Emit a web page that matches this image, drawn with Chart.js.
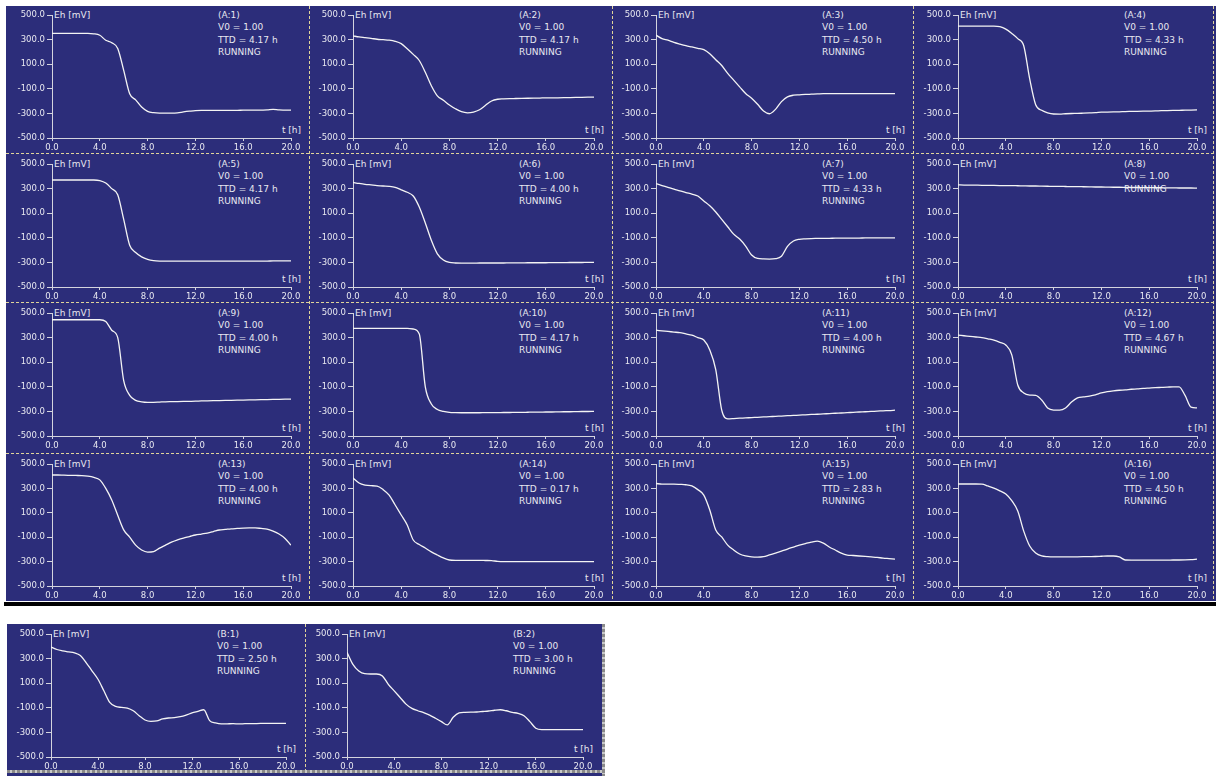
<!DOCTYPE html>
<html>
<head>
<meta charset="utf-8">
<script src="https://cdn.jsdelivr.net/npm/chart.js@4.4.1/dist/chart.umd.min.js"></script>
<style>
  html, body { margin: 0; padding: 0; background: #ffffff; }
  body { width: 1221px; height: 776px; overflow: hidden; position: relative; font-family: "DejaVu Sans", sans-serif; }
  .bg { position: absolute; background: #2c2d7a; }
  .txt { position: absolute; color: #e8e8f0; font-size: 9px; line-height: 12.3px; white-space: pre; }
  .cv { position: absolute; }
  .hd { position: absolute; height: 1px; background: repeating-linear-gradient(to right, #e0d49a 0 3px, transparent 3px 5px); }
  .vd { position: absolute; width: 1px; background: repeating-linear-gradient(to bottom, #e0d49a 0 3px, transparent 3px 5px); }
  .hg { position: absolute; height: 3px; background: repeating-linear-gradient(to right, #8a8a8a 0 3px, #c8c8c8 3px 5px); }
  .vg { position: absolute; width: 3px; background: repeating-linear-gradient(to bottom, #8a8a8a 0 3px, #c8c8c8 3px 5px); }
</style>
</head>
<body>
<script>
// sample times in hours
const hours = [0, 0.5, 1, 1.5, 2, 2.5, 3, 3.5, 4, 4.5, 5, 5.5, 6, 6.5, 7, 7.5, 8, 8.5, 9, 9.5, 10,
  10.5, 11, 11.5, 12, 12.5, 13, 13.5, 14, 14.5, 15, 15.5, 16, 16.5, 17, 17.5, 18, 18.5, 19, 19.5, 20];

// redox potential Eh [mV] per channel
const ehA1 = [350, 350, 350, 350, 350, 350, 350, 347, 335, 295, 275, 228, 50, -140, -190, -248, -283, -294, -297, -297, -297,
  -295, -288, -282, -277, -276, -276, -275, -275, -275, -275, -275, -274, -274, -274, -273, -272, -268, -272, -273, -274];
const ehA2 = [330, 322, 316, 310, 303, 299, 295, 286, 267, 226, 180, 130, 34, -75, -157, -193, -231, -262, -286, -295, -289,
  -270, -234, -199, -185, -182, -180, -179, -178, -177, -176, -175, -173, -174, -173, -172, -171, -170, -169, -168, -167];
const ehA3 = [336, 308, 295, 278, 264, 251, 240, 229, 218, 185, 136, 89, 26, -29, -84, -138, -177, -226, -281, -303, -267,
  -204, -166, -152, -149, -146, -144, -142, -139, -139, -139, -139, -139, -139, -139, -139, -139, -139, -139, -139, -139];
const ehA4 = [410, 410, 410, 410, 410, 410, 410, 405, 385, 350, 308, 250, -20, -230, -275, -295, -305, -306, -303, -301, -300,
  -298, -296, -294, -290, -289, -288, -287, -285, -284, -283, -282, -281, -280, -278, -277, -276, -275, -274, -273, -272];
const ehA5 = [370, 370, 370, 370, 370, 370, 370, 370, 365, 345, 300, 250, 50, -160, -220, -255, -275, -285, -289, -290, -290,
  -290, -290, -290, -290, -290, -290, -290, -290, -290, -290, -289, -289, -289, -289, -289, -289, -288, -288, -288, -288];
const ehA6 = [350, 342, 335, 330, 325, 321, 318, 310, 290, 270, 240, 150, 20, -120, -230, -280, -300, -305, -306, -306, -306,
  -305, -305, -305, -305, -305, -304, -304, -304, -303, -303, -303, -303, -302, -302, -302, -301, -301, -301, -300, -300];
const ehA7 = [340, 325, 310, 295, 282, 268, 255, 240, 200, 160, 110, 50, -10, -70, -110, -167, -240, -268, -272, -273, -270,
  -250, -170, -126, -112, -108, -106, -105, -104, -104, -103, -103, -102, -102, -102, -101, -101, -101, -100, -100, -100];
const ehA8 = [330, 329, 329, 328, 327, 327, 326, 325, 324, 324, 323, 322, 321, 321, 320, 319, 318, 318, 317, 316, 316,
  315, 314, 313, 313, 312, 311, 311, 310, 309, 309, 308, 308, 307, 307, 306, 306, 305, 305, 305, 304];
const ehA9 = [445, 445, 445, 445, 445, 445, 445, 445, 445, 430, 360, 300, -50, -170, -210, -222, -226, -226, -224, -222, -221,
  -220, -219, -218, -217, -215, -214, -213, -212, -211, -210, -209, -208, -207, -206, -205, -204, -203, -202, -201, -200];
const ehA10 = [375, 375, 375, 375, 375, 375, 375, 375, 375, 375, 370, 330, -100, -240, -285, -300, -308, -310, -311, -311, -311,
  -311, -310, -310, -310, -309, -309, -308, -308, -307, -306, -306, -305, -305, -304, -303, -303, -302, -301, -301, -300];
const ehA11 = [360, 355, 350, 345, 340, 330, 320, 300, 280, 200, 40, -290, -360, -358, -355, -353, -350, -348, -345, -343, -340,
  -338, -335, -333, -330, -328, -325, -323, -320, -318, -315, -313, -310, -308, -305, -303, -300, -298, -295, -293, -290];
const ehA12 = [320, 315, 310, 305, 300, 290, 280, 262, 240, 160, -85, -150, -167, -170, -207, -272, -289, -290, -272, -224, -190,
  -182, -175, -165, -150, -140, -133, -128, -125, -120, -117, -113, -110, -107, -105, -103, -100, -100, -170, -265, -272];
const ehA13 = [410, 410, 408, 407, 406, 405, 400, 390, 370, 300, 205, 80, -40, -100, -165, -205, -222, -218, -190, -165, -140,
  -122, -107, -95, -82, -74, -66, -54, -41, -36, -31, -28, -25, -24, -24, -28, -33, -50, -74, -110, -165];
const ehA14 = [385, 344, 327, 322, 319, 290, 245, 164, 82, 0, -123, -160, -189, -220, -246, -270, -287, -290, -290, -290, -290,
  -290, -291, -292, -298, -300, -300, -300, -300, -300, -300, -300, -300, -300, -300, -300, -300, -300, -300, -300, -300];
const ehA15 = [340, 335, 335, 335, 333, 330, 320, 290, 245, 123, -41, -98, -165, -205, -238, -254, -262, -264, -260, -245, -230,
  -214, -197, -181, -165, -152, -140, -132, -148, -180, -205, -230, -246, -250, -254, -258, -262, -266, -271, -275, -279];
const ehA16 = [336, 336, 336, 336, 335, 320, 303, 280, 254, 200, 115, -50, -172, -230, -254, -260, -262, -262, -262, -262, -261,
  -260, -259, -258, -256, -254, -254, -262, -287, -288, -288, -288, -288, -288, -288, -288, -287, -287, -286, -284, -280];
const ehB1 = [395, 374, 363, 355, 347, 325, 266, 199, 132, 38, -56, -89, -97, -102, -124, -164, -199, -210, -207, -191, -183,
  -180, -172, -159, -142, -129, -116, -204, -223, -231, -230, -229, -231, -229, -228, -228, -227, -226, -226, -226, -226];
const ehB2 = [352, 253, 199, 177, 175, 175, 159, 91, 38, -16, -70, -105, -124, -140, -159, -185, -212, -239, -177, -142, -137,
  -135, -134, -130, -126, -120, -116, -124, -137, -145, -164, -212, -266, -277, -277, -277, -277, -277, -277, -277, -277];

// axis ticks
const xTicks = [0, 4, 8, 12, 16, 20];
const yTicks = [-500, -300, -100, 100, 300, 500];

// channel labels and status lines
const channelNames = ['A:1', 'A:2', 'A:3', 'A:4', 'A:5', 'A:6', 'A:7', 'A:8',
  'A:9', 'A:10', 'A:11', 'A:12', 'A:13', 'A:14', 'A:15', 'A:16', 'B:1', 'B:2'];
const ttdValues = ['4.17', '4.17', '4.50', '4.33', '4.17', '4.00', '4.33', null,
  '4.00', '4.17', '4.00', '4.67', '4.00', '0.17', '2.83', '4.50', '2.50', '3.00'];
const v0Values = ['1.00', '1.00', '1.00', '1.00', '1.00', '1.00', '1.00', '1.00',
  '1.00', '1.00', '1.00', '1.00', '1.00', '1.00', '1.00', '1.00', '1.00', '1.00'];
const channelSeries = [ehA1, ehA2, ehA3, ehA4, ehA5, ehA6, ehA7, ehA8,
  ehA9, ehA10, ehA11, ehA12, ehA13, ehA14, ehA15, ehA16, ehB1, ehB2];

// grid geometry (cell box and plot box in page pixels)
const gridCols = [
  { left: 6, right: 309, pl: 52, pr: 291 },
  { left: 309, right: 612, pl: 353, pr: 594 },
  { left: 612, right: 913, pl: 656, pr: 895 },
  { left: 913, right: 1216, pl: 958, pr: 1197 }
];
const gridRows = [
  { top: 6, bottom: 153, pt: 15, pb: 138 },
  { top: 153, bottom: 302, pt: 164, pb: 287 },
  { top: 302, bottom: 453, pt: 313, pb: 436 },
  { top: 453, bottom: 601, pt: 464, pb: 586 }
];
const bCols = [
  { left: 7, right: 305, pl: 51, pr: 286 },
  { left: 305, right: 602, pl: 347, pr: 583 }
];
const bRow = { top: 624, bottom: 773, pt: 634, pb: 757 };

const AXIS = '#d4d4de';
const INK = '#e8e8f0';
const TRACE = '#f4f4f4';

function el(cls, css, text) {
  const d = document.createElement('div');
  d.className = cls;
  Object.assign(d.style, css);
  if (text !== undefined) d.textContent = text;
  document.body.appendChild(d);
  return d;
}

// backgrounds
el('bg', { left: '6px', top: '6px', width: '1210px', height: '595px' });
el('bg', { left: '7px', top: '624px', width: '598px', height: '152px' });
el('bg', { left: '4px', top: '602px', width: '1212px', height: '4px', background: '#000' });

function drawPanel(idx, col, row) {
  const name = channelNames[idx];
  const lines = ['(' + name + ')', 'V0 = ' + v0Values[idx]];
  if (ttdValues[idx] !== null) lines.push('TTD = ' + ttdValues[idx] + ' h');
  lines.push('RUNNING');

  // text behind the trace
  el('txt', { left: (col.pl + 166) + 'px', top: (row.pt - 6) + 'px' }, lines.join('\n'));
  el('txt', { left: (col.pl + 2) + 'px', top: (row.pt - 6) + 'px' }, 'Eh [mV]');
  const th = el('txt', { top: (row.pb - 14) + 'px' }, 't [h]');
  th.style.right = (1221 - (col.pr + 10)) + 'px';

  const w = col.right - col.left, h = row.bottom - row.top;
  const cv = document.createElement('canvas');
  cv.className = 'cv';
  cv.width = w; cv.height = h;
  cv.style.left = col.left + 'px'; cv.style.top = row.top + 'px';
  cv.style.width = w + 'px'; cv.style.height = h + 'px';
  document.body.appendChild(cv);

  const series = channelSeries[idx];
  const pts = hours.map((t, i) => ({ x: t, y: series[i] }));
  const tickFont = { family: 'DejaVu Sans', size: 8.5 };

  new Chart(cv, {
    type: 'line',
    data: { datasets: [{ data: pts, borderColor: TRACE, borderWidth: 1.3, pointRadius: 0,
      cubicInterpolationMode: 'monotone', fill: false }] },
    options: {
      responsive: false, animation: false, events: [],
      layout: { padding: { left: 0, top: row.pt - row.top, right: col.right - col.pr, bottom: 0 } },
      plugins: { legend: { display: false }, tooltip: { enabled: false } },
      scales: {
        x: {
          type: 'linear', min: 0, max: 20,
          afterBuildTicks: s => { s.ticks = xTicks.map(v => ({ value: v })); },
          afterFit: s => { s.height = row.bottom - row.pb; },
          ticks: { color: INK, font: tickFont, padding: 2, maxRotation: 0, autoSkip: false,
            callback: v => Number(v).toFixed(1) },
          grid: { drawOnChartArea: false, drawTicks: true, tickLength: 3, color: AXIS },
          border: { color: AXIS, width: 1 }
        },
        y: {
          type: 'linear', min: -500, max: 500,
          afterBuildTicks: s => { s.ticks = yTicks.map(v => ({ value: v })); },
          afterFit: s => { s.width = col.pl - col.left; },
          ticks: { color: INK, font: tickFont, padding: 2, autoSkip: false,
            callback: v => Number(v).toFixed(1) },
          grid: { drawOnChartArea: false, drawTicks: true, tickLength: 5, color: AXIS },
          border: { color: AXIS, width: 1 }
        }
      }
    }
  });
}

for (let i = 0; i < 16; i++) drawPanel(i, gridCols[i % 4], gridRows[Math.floor(i / 4)]);
drawPanel(16, bCols[0], bRow);
drawPanel(17, bCols[1], bRow);

// cell separators
[153, 302, 453].forEach(y => el('hd', { left: '6px', top: y + 'px', width: '1210px' }));
[309, 612, 913, 1213].forEach(x => el('vd', { left: x + 'px', top: '6px', height: '595px' }));
el('vd', { left: '305px', top: '624px', height: '149px' });
el('vg', { left: '602px', top: '624px', height: '152px' });
el('hg', { left: '7px', top: '770px', width: '598px' });
</script>
</body>
</html>
